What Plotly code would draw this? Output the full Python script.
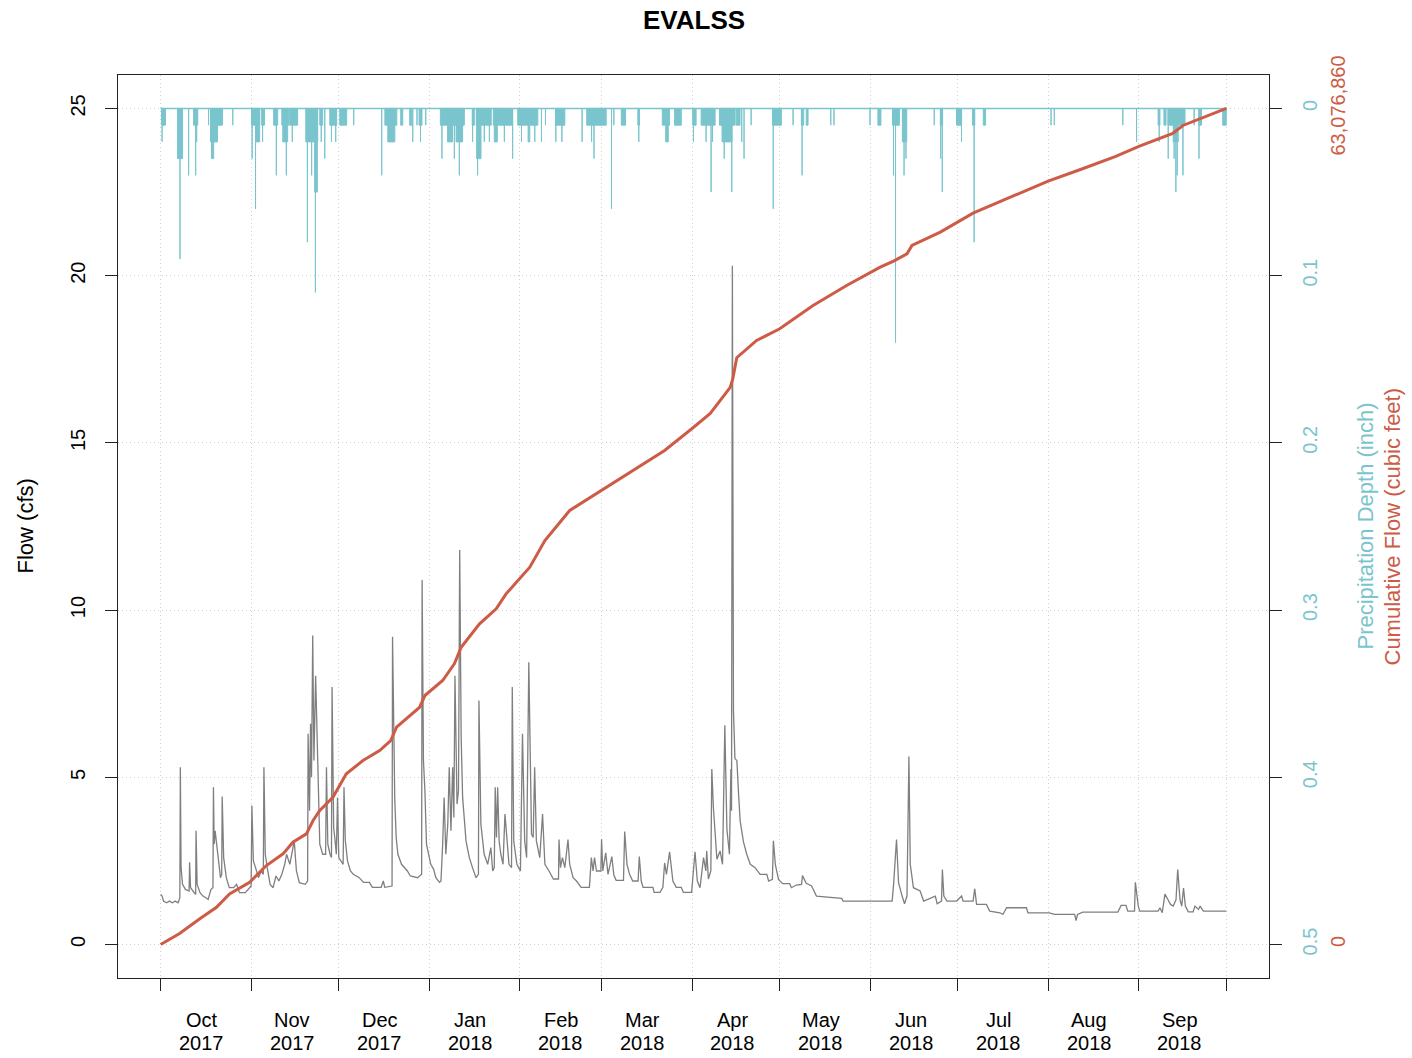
import pandas as pd
import plotly.graph_objects as go

title_text = "EVALSS"

# Hourly-resolution flow readings (time, cfs)
flow_obs = [
    ("2017-10-01 00:00", 1.5), ("2017-10-01 12:00", 1.45), ("2017-10-02 00:00", 1.3),
    ("2017-10-03 00:00", 1.25), ("2017-10-04 00:00", 1.3), ("2017-10-05 00:00", 1.25),
    ("2017-10-06 00:00", 1.3), ("2017-10-07 00:00", 1.25), ("2017-10-07 14:00", 1.4),
    ("2017-10-07 18:00", 5.3), ("2017-10-08 00:00", 2.3), ("2017-10-08 12:00", 1.8),
    ("2017-10-09 12:00", 1.65), ("2017-10-10 18:00", 1.6), ("2017-10-10 22:00", 2.46),
    ("2017-10-11 06:00", 1.7), ("2017-10-12 12:00", 1.55), ("2017-10-13 00:00", 1.5),
    ("2017-10-13 03:00", 3.4), ("2017-10-13 12:00", 1.8), ("2017-10-14 12:00", 1.55),
    ("2017-10-15 12:00", 1.45), ("2017-10-16 12:00", 1.4), ("2017-10-17 06:00", 1.35),
    ("2017-10-18 06:00", 1.65), ("2017-10-18 22:00", 1.7), ("2017-10-19 02:00", 4.7),
    ("2017-10-19 08:00", 3.0), ("2017-10-19 16:00", 3.4), ("2017-10-20 14:00", 2.6),
    ("2017-10-21 12:00", 2.0), ("2017-10-21 22:00", 2.1), ("2017-10-22 02:00", 4.43),
    ("2017-10-22 14:00", 2.6), ("2017-10-23 12:00", 2.0), ("2017-10-24 12:00", 1.7),
    ("2017-10-26 00:00", 1.7), ("2017-10-27 00:00", 1.8), ("2017-10-28 00:00", 1.55),
    ("2017-10-30 00:00", 1.55), ("2017-10-31 12:00", 1.7),
    ("2017-11-01 00:00", 1.75), ("2017-11-01 06:00", 4.16), ("2017-11-01 18:00", 2.5),
    ("2017-11-02 12:00", 2.3), ("2017-11-03 12:00", 2.0), ("2017-11-04 12:00", 2.2),
    ("2017-11-05 04:00", 2.1), ("2017-11-05 09:00", 5.3), ("2017-11-05 20:00", 2.7),
    ("2017-11-06 12:00", 2.3), ("2017-11-07 12:00", 1.8), ("2017-11-08 12:00", 1.7),
    ("2017-11-09 12:00", 2.05), ("2017-11-10 12:00", 1.9), ("2017-11-11 12:00", 2.1),
    ("2017-11-12 12:00", 2.4), ("2017-11-13 03:00", 2.7), ("2017-11-14 06:00", 2.4),
    ("2017-11-15 06:00", 2.9), ("2017-11-15 18:00", 3.1), ("2017-11-16 12:00", 2.2),
    ("2017-11-17 12:00", 1.85), ("2017-11-19 12:00", 1.8), ("2017-11-20 08:00", 1.9),
    ("2017-11-20 12:00", 6.3), ("2017-11-21 00:00", 4.0), ("2017-11-21 08:00", 6.6),
    ("2017-11-21 16:00", 5.0), ("2017-11-22 02:00", 9.24), ("2017-11-22 12:00", 5.5),
    ("2017-11-23 02:00", 8.04), ("2017-11-23 12:00", 6.6), ("2017-11-24 00:00", 4.0),
    ("2017-11-24 12:00", 3.0), ("2017-11-25 12:00", 2.7), ("2017-11-26 12:00", 2.7),
    ("2017-11-26 19:00", 5.3), ("2017-11-27 06:00", 3.0), ("2017-11-28 00:00", 2.7),
    ("2017-11-28 12:00", 2.6), ("2017-11-28 17:00", 7.7), ("2017-11-29 06:00", 3.5),
    ("2017-11-29 18:00", 3.1), ("2017-11-30 04:00", 2.7), ("2017-11-30 14:00", 4.4),
    ("2017-12-01 00:00", 2.6), ("2017-12-02 12:00", 2.4), ("2017-12-02 19:00", 4.7),
    ("2017-12-03 06:00", 3.1), ("2017-12-04 00:00", 2.5), ("2017-12-05 00:00", 2.2),
    ("2017-12-06 00:00", 2.1), ("2017-12-08 00:00", 2.0), ("2017-12-09 12:00", 1.86),
    ("2017-12-11 12:00", 1.86), ("2017-12-12 12:00", 1.71), ("2017-12-15 12:00", 1.71),
    ("2017-12-16 06:00", 1.9), ("2017-12-16 18:00", 1.71), ("2017-12-19 06:00", 1.75),
    ("2017-12-19 10:00", 9.2), ("2017-12-20 04:00", 4.4), ("2017-12-20 16:00", 3.2),
    ("2017-12-21 06:00", 2.7), ("2017-12-22 12:00", 2.4), ("2017-12-23 12:00", 2.3),
    ("2017-12-24 12:00", 2.2), ("2017-12-25 12:00", 2.05), ("2017-12-28 00:00", 2.0),
    ("2017-12-29 09:00", 2.1), ("2017-12-29 13:00", 10.9), ("2017-12-30 00:00", 5.5),
    ("2017-12-30 12:00", 4.6), ("2017-12-31 01:00", 3.0),
    ("2018-01-01 12:00", 2.4), ("2018-01-02 12:00", 2.25), ("2018-01-03 06:00", 2.0),
    ("2018-01-04 12:00", 1.86), ("2018-01-05 00:00", 1.9), ("2018-01-05 14:00", 3.0),
    ("2018-01-06 02:00", 4.4), ("2018-01-06 16:00", 2.7), ("2018-01-07 08:00", 3.6),
    ("2018-01-07 20:00", 5.3), ("2018-01-08 10:00", 3.4), ("2018-01-09 00:00", 5.3),
    ("2018-01-09 10:00", 3.8), ("2018-01-09 19:00", 8.04), ("2018-01-10 12:00", 4.2),
    ("2018-01-11 00:00", 4.6), ("2018-01-11 10:00", 11.8), ("2018-01-11 22:00", 6.2),
    ("2018-01-12 10:00", 4.4), ("2018-01-13 14:00", 3.1), ("2018-01-14 17:00", 2.6),
    ("2018-01-15 19:00", 2.3), ("2018-01-17 00:00", 2.0), ("2018-01-17 20:00", 2.1),
    ("2018-01-18 00:00", 7.3), ("2018-01-18 16:00", 3.6), ("2018-01-19 19:00", 2.7),
    ("2018-01-21 00:00", 2.4), ("2018-01-22 02:00", 2.9), ("2018-01-22 17:00", 2.2),
    ("2018-01-23 06:00", 2.3), ("2018-01-23 14:00", 4.7), ("2018-01-24 00:00", 3.2),
    ("2018-01-24 10:00", 4.7), ("2018-01-24 22:00", 3.1), ("2018-01-25 12:00", 2.7),
    ("2018-01-26 06:00", 2.4), ("2018-01-26 22:00", 3.9), ("2018-01-27 17:00", 2.9),
    ("2018-01-28 07:00", 2.4), ("2018-01-29 04:00", 2.3), ("2018-01-29 10:00", 7.7),
    ("2018-01-29 22:00", 3.1), ("2018-01-31 00:00", 2.4),
    ("2018-02-01 05:00", 2.2), ("2018-02-01 22:00", 6.3), ("2018-02-02 16:00", 3.1),
    ("2018-02-03 08:00", 2.6), ("2018-02-04 02:00", 8.44), ("2018-02-05 00:00", 3.3),
    ("2018-02-05 14:00", 3.2), ("2018-02-06 02:00", 5.3), ("2018-02-06 16:00", 3.1),
    ("2018-02-07 20:00", 2.6), ("2018-02-08 19:00", 3.9), ("2018-02-09 14:00", 2.4),
    ("2018-02-11 00:00", 2.2), ("2018-02-12 12:00", 1.96), ("2018-02-14 06:00", 1.96),
    ("2018-02-14 10:00", 3.14), ("2018-02-14 22:00", 2.3), ("2018-02-15 14:00", 2.6),
    ("2018-02-16 10:00", 2.3), ("2018-02-17 12:00", 3.14), ("2018-02-18 02:00", 2.4),
    ("2018-02-19 06:00", 2.0), ("2018-02-20 10:00", 1.9), ("2018-02-22 00:00", 1.71),
    ("2018-02-24 20:00", 1.71), ("2018-02-25 12:00", 2.6), ("2018-02-26 02:00", 2.2),
    ("2018-02-26 14:00", 2.6), ("2018-02-27 06:00", 2.2), ("2018-02-28 18:00", 2.2),
    ("2018-03-01 00:00", 3.15), ("2018-03-01 10:00", 2.2), ("2018-03-02 10:00", 2.74),
    ("2018-03-03 05:00", 2.1), ("2018-03-04 12:00", 2.63), ("2018-03-05 05:00", 2.08),
    ("2018-03-06 00:00", 1.92), ("2018-03-08 12:00", 1.92), ("2018-03-08 22:00", 3.38),
    ("2018-03-09 17:00", 2.4), ("2018-03-10 14:00", 2.1), ("2018-03-11 16:00", 1.9),
    ("2018-03-13 12:00", 1.9), ("2018-03-13 22:00", 2.63), ("2018-03-14 14:00", 1.9),
    ("2018-03-15 05:00", 1.71), ("2018-03-18 14:00", 1.71), ("2018-03-19 00:00", 1.56),
    ("2018-03-21 00:00", 1.56), ("2018-03-22 00:00", 1.71), ("2018-03-22 14:00", 2.44),
    ("2018-03-23 05:00", 2.1), ("2018-03-24 07:00", 2.77), ("2018-03-24 22:00", 2.2),
    ("2018-03-25 10:00", 1.9), ("2018-03-26 14:00", 1.71), ("2018-03-28 07:00", 1.71),
    ("2018-03-29 00:00", 1.56), ("2018-03-31 20:00", 1.56),
    ("2018-04-02 00:00", 2.77), ("2018-04-02 19:00", 1.9), ("2018-04-03 17:00", 1.7),
    ("2018-04-04 22:00", 2.6), ("2018-04-05 17:00", 2.2), ("2018-04-06 00:00", 2.8),
    ("2018-04-06 14:00", 1.96), ("2018-04-07 10:00", 2.2), ("2018-04-07 18:00", 5.25),
    ("2018-04-08 07:00", 4.1), ("2018-04-09 12:00", 2.55), ("2018-04-10 14:00", 2.8),
    ("2018-04-11 10:00", 2.4), ("2018-04-12 05:00", 6.56), ("2018-04-12 22:00", 3.45),
    ("2018-04-13 19:00", 2.7), ("2018-04-14 07:00", 5.25), ("2018-04-14 12:00", 4.0),
    ("2018-04-14 19:00", 20.3), ("2018-04-14 22:00", 11.0), ("2018-04-15 04:00", 7.0),
    ("2018-04-15 16:00", 5.56), ("2018-04-16 08:00", 5.5), ("2018-04-16 22:00", 4.5),
    ("2018-04-17 11:00", 3.7), ("2018-04-18 14:00", 3.07), ("2018-04-19 17:00", 2.7),
    ("2018-04-20 22:00", 2.4), ("2018-04-22 14:00", 2.3), ("2018-04-24 07:00", 2.1),
    ("2018-04-26 14:00", 2.1), ("2018-04-27 05:00", 1.9), ("2018-04-28 12:00", 1.95),
    ("2018-04-28 20:00", 3.1), ("2018-04-29 12:00", 2.4), ("2018-04-30 14:00", 1.95),
    ("2018-05-02 00:00", 1.82), ("2018-05-04 10:00", 1.82), ("2018-05-05 00:00", 1.7),
    ("2018-05-06 17:00", 1.78), ("2018-05-08 12:00", 1.8), ("2018-05-08 19:00", 2.06),
    ("2018-05-10 02:00", 1.83), ("2018-05-11 22:00", 1.75), ("2018-05-13 14:00", 1.45),
    ("2018-05-22 05:00", 1.38), ("2018-05-22 17:00", 1.3), ("2018-06-08 12:00", 1.3),
    ("2018-06-09 00:00", 1.8), ("2018-06-10 00:00", 3.14), ("2018-06-10 17:00", 1.84),
    ("2018-06-11 22:00", 1.45), ("2018-06-12 18:00", 1.22), ("2018-06-13 14:00", 1.45),
    ("2018-06-14 06:00", 5.62), ("2018-06-14 17:00", 2.4), ("2018-06-15 07:00", 2.0),
    ("2018-06-15 19:00", 1.7), ("2018-06-18 02:00", 1.6), ("2018-06-19 07:00", 1.3),
    ("2018-06-23 07:00", 1.45), ("2018-06-23 22:00", 1.22), ("2018-06-25 10:00", 1.3),
    ("2018-06-25 17:00", 2.24), ("2018-06-26 05:00", 1.45), ("2018-06-27 07:00", 1.3),
    ("2018-06-30 14:00", 1.3),
    ("2018-07-02 07:00", 1.45), ("2018-07-02 19:00", 1.3), ("2018-07-06 05:00", 1.3),
    ("2018-07-06 19:00", 1.67), ("2018-07-07 10:00", 1.2), ("2018-07-10 19:00", 1.2),
    ("2018-07-11 22:00", 1.0), ("2018-07-15 10:00", 0.95), ("2018-07-16 10:00", 0.9),
    ("2018-07-17 17:00", 1.1), ("2018-07-24 12:00", 1.1), ("2018-07-25 00:00", 0.95),
    ("2018-08-01 07:00", 0.95), ("2018-08-03 02:00", 0.9), ("2018-08-10 00:00", 0.9),
    ("2018-08-10 12:00", 0.72), ("2018-08-11 00:00", 0.9), ("2018-08-12 19:00", 0.97),
    ("2018-08-24 19:00", 0.97), ("2018-08-25 22:00", 1.17), ("2018-08-27 14:00", 1.17),
    ("2018-08-28 05:00", 1.0), ("2018-08-30 12:00", 1.0), ("2018-08-30 19:00", 1.86),
    ("2018-08-31 19:00", 1.15),
    ("2018-09-01 07:00", 1.0), ("2018-09-07 14:00", 1.0), ("2018-09-08 05:00", 1.1),
    ("2018-09-09 00:00", 0.95), ("2018-09-09 22:00", 1.51), ("2018-09-11 00:00", 1.34),
    ("2018-09-11 20:00", 1.2), ("2018-09-12 18:00", 1.15), ("2018-09-13 17:00", 1.34),
    ("2018-09-14 07:00", 2.24), ("2018-09-15 02:00", 1.34), ("2018-09-15 16:00", 1.15),
    ("2018-09-16 07:00", 1.69), ("2018-09-16 22:00", 1.15), ("2018-09-17 22:00", 0.98),
    ("2018-09-19 14:00", 0.98), ("2018-09-20 05:00", 1.15), ("2018-09-21 10:00", 1.05),
    ("2018-09-21 23:00", 1.15), ("2018-09-23 02:00", 1.0), ("2018-09-30 23:00", 1.0),
]

# Rain periods: (start, end, hourly depth in inches)
precip_events = [
    ("2017-10-01 08:00", "2017-10-02 16:00", 0.01), ("2017-10-01 12:00", "2017-10-01 12:00", 0.02),
    ("2017-10-06 19:00", "2017-10-08 12:00", 0.03), ("2017-10-07 15:00", "2017-10-07 15:00", 0.09),
    ("2017-10-10 14:00", "2017-10-10 14:00", 0.04), ("2017-10-12 07:00", "2017-10-13 17:00", 0.01),
    ("2017-10-13 00:00", "2017-10-13 00:00", 0.04), ("2017-10-13 08:00", "2017-10-13 08:00", 0.02),
    ("2017-10-17 10:00", "2017-10-17 10:00", 0.01), ("2017-10-18 02:00", "2017-10-20 12:00", 0.02),
    ("2017-10-18 10:00", "2017-10-19 04:00", 0.03), ("2017-10-20 12:00", "2017-10-22 05:00", 0.01),
    ("2017-10-25 17:00", "2017-10-25 17:00", 0.01),
    ("2017-11-01 04:00", "2017-11-03 22:00", 0.01), ("2017-11-01 08:00", "2017-11-01 08:00", 0.03),
    ("2017-11-02 12:00", "2017-11-02 12:00", 0.06), ("2017-11-02 14:00", "2017-11-03 22:00", 0.02),
    ("2017-11-04 14:00", "2017-11-05 14:00", 0.01), ("2017-11-04 22:00", "2017-11-04 22:00", 0.02),
    ("2017-11-08 17:00", "2017-11-10 02:00", 0.01), ("2017-11-09 15:00", "2017-11-09 15:00", 0.04),
    ("2017-11-11 12:00", "2017-11-13 22:00", 0.01), ("2017-11-11 20:00", "2017-11-13 12:00", 0.02),
    ("2017-11-13 01:00", "2017-11-13 01:00", 0.04), ("2017-11-14 05:00", "2017-11-16 22:00", 0.01),
    ("2017-11-15 02:00", "2017-11-15 02:00", 0.02), ("2017-11-19 17:00", "2017-11-23 19:00", 0.02),
    ("2017-11-20 06:00", "2017-11-20 06:00", 0.08), ("2017-11-21 17:00", "2017-11-21 17:00", 0.04),
    ("2017-11-22 18:00", "2017-11-23 16:00", 0.05), ("2017-11-23 00:00", "2017-11-23 00:00", 0.11),
    ("2017-11-24 12:00", "2017-11-25 12:00", 0.01), ("2017-11-25 00:00", "2017-11-25 00:00", 0.02),
    ("2017-11-26 05:00", "2017-11-26 05:00", 0.03), ("2017-11-27 22:00", "2017-11-30 07:00", 0.01),
    ("2017-11-28 12:00", "2017-11-28 12:00", 0.02), ("2017-11-29 23:00", "2017-11-29 23:00", 0.02),
    ("2017-12-01 08:00", "2017-12-03 17:00", 0.01), ("2017-12-06 03:00", "2017-12-06 03:00", 0.01),
    ("2017-12-15 17:00", "2017-12-15 17:00", 0.04), ("2017-12-16 19:00", "2017-12-20 21:00", 0.01),
    ("2017-12-17 19:00", "2017-12-20 05:00", 0.02), ("2017-12-22 05:00", "2017-12-22 22:00", 0.01),
    ("2017-12-25 07:00", "2017-12-26 00:00", 0.01), ("2017-12-26 08:00", "2017-12-26 08:00", 0.02),
    ("2017-12-27 19:00", "2017-12-27 19:00", 0.01), ("2017-12-28 12:00", "2017-12-29 12:00", 0.01),
    ("2017-12-29 00:00", "2017-12-29 00:00", 0.02), ("2017-12-30 19:00", "2017-12-30 19:00", 0.01),
    ("2018-01-04 19:00", "2018-01-13 00:00", 0.01), ("2018-01-05 08:00", "2018-01-05 08:00", 0.03),
    ("2018-01-07 06:00", "2018-01-08 23:00", 0.02), ("2018-01-09 14:00", "2018-01-09 14:00", 0.03),
    ("2018-01-10 04:00", "2018-01-12 10:00", 0.02), ("2018-01-11 07:00", "2018-01-11 07:00", 0.04),
    ("2018-01-15 17:00", "2018-01-16 10:00", 0.01), ("2018-01-15 20:00", "2018-01-15 20:00", 0.02),
    ("2018-01-17 02:00", "2018-01-22 05:00", 0.01), ("2018-01-17 05:00", "2018-01-18 17:00", 0.03),
    ("2018-01-17 13:00", "2018-01-17 13:00", 0.04), ("2018-01-19 20:00", "2018-01-19 20:00", 0.02),
    ("2018-01-21 14:00", "2018-01-21 14:00", 0.02), ("2018-01-22 22:00", "2018-01-29 10:00", 0.01),
    ("2018-01-23 06:00", "2018-01-24 07:00", 0.02), ("2018-01-26 17:00", "2018-01-26 17:00", 0.02),
    ("2018-01-29 13:00", "2018-01-29 13:00", 0.03), ("2018-01-31 07:00", "2018-02-07 04:00", 0.01),
    ("2018-02-01 14:00", "2018-02-01 14:00", 0.02), ("2018-02-03 20:00", "2018-02-04 10:00", 0.02),
    ("2018-02-06 03:00", "2018-02-06 03:00", 0.02), ("2018-02-08 10:00", "2018-02-08 10:00", 0.02),
    ("2018-02-09 19:00", "2018-02-09 19:00", 0.01), ("2018-02-13 05:00", "2018-02-16 10:00", 0.01),
    ("2018-02-13 08:00", "2018-02-13 08:00", 0.02), ("2018-02-15 10:00", "2018-02-15 10:00", 0.02),
    ("2018-02-22 08:00", "2018-02-22 08:00", 0.02), ("2018-02-23 22:00", "2018-03-02 14:00", 0.01),
    ("2018-02-25 14:00", "2018-02-25 14:00", 0.02), ("2018-02-26 10:00", "2018-02-26 10:00", 0.03),
    ("2018-03-04 10:00", "2018-03-04 10:00", 0.06), ("2018-03-05 05:00", "2018-03-05 05:00", 0.01),
    ("2018-03-07 18:00", "2018-03-09 05:00", 0.01), ("2018-03-13 10:00", "2018-03-14 00:00", 0.01),
    ("2018-03-13 18:00", "2018-03-13 18:00", 0.02), ("2018-03-21 19:00", "2018-03-24 07:00", 0.01),
    ("2018-03-22 23:00", "2018-03-23 20:00", 0.02), ("2018-03-26 00:00", "2018-03-28 07:00", 0.01),
    ("2018-04-01 05:00", "2018-04-02 09:00", 0.01), ("2018-04-01 11:00", "2018-04-01 11:00", 0.02),
    ("2018-04-04 02:00", "2018-04-08 21:00", 0.01), ("2018-04-05 19:00", "2018-04-05 19:00", 0.02),
    ("2018-04-07 12:00", "2018-04-07 12:00", 0.05), ("2018-04-08 00:00", "2018-04-08 00:00", 0.02),
    ("2018-04-10 09:00", "2018-04-15 17:00", 0.01), ("2018-04-11 06:00", "2018-04-14 16:00", 0.02),
    ("2018-04-12 00:00", "2018-04-12 00:00", 0.03), ("2018-04-14 14:00", "2018-04-14 14:00", 0.05),
    ("2018-04-16 02:00", "2018-04-17 10:00", 0.01), ("2018-04-18 00:00", "2018-04-18 00:00", 0.02),
    ("2018-04-18 19:00", "2018-04-18 19:00", 0.03), ("2018-04-21 05:00", "2018-04-21 05:00", 0.01),
    ("2018-04-28 12:00", "2018-05-01 14:00", 0.01), ("2018-04-28 19:00", "2018-04-28 19:00", 0.06),
    ("2018-05-05 14:00", "2018-05-05 14:00", 0.01), ("2018-05-08 10:00", "2018-05-09 05:00", 0.01),
    ("2018-05-08 16:00", "2018-05-08 16:00", 0.04), ("2018-05-10 02:00", "2018-05-10 17:00", 0.01),
    ("2018-05-18 12:00", "2018-05-18 12:00", 0.01), ("2018-05-19 14:00", "2018-05-19 14:00", 0.01),
    ("2018-05-31 22:00", "2018-05-31 22:00", 0.01),
    ("2018-06-03 15:00", "2018-06-04 16:00", 0.01), ("2018-06-08 15:00", "2018-06-11 00:00", 0.01),
    ("2018-06-08 23:00", "2018-06-08 23:00", 0.04), ("2018-06-09 16:00", "2018-06-09 16:00", 0.14),
    ("2018-06-12 00:00", "2018-06-13 12:00", 0.02), ("2018-06-12 14:00", "2018-06-12 14:00", 0.04),
    ("2018-06-13 06:00", "2018-06-13 06:00", 0.03), ("2018-06-22 22:00", "2018-06-22 22:00", 0.01),
    ("2018-06-25 00:00", "2018-06-25 19:00", 0.01), ("2018-06-25 03:00", "2018-06-25 03:00", 0.03),
    ("2018-06-25 16:00", "2018-06-25 16:00", 0.05), ("2018-06-30 13:00", "2018-07-02 07:00", 0.01),
    ("2018-07-02 06:00", "2018-07-02 06:00", 0.02), ("2018-07-06 00:00", "2018-07-06 19:00", 0.01),
    ("2018-07-06 14:00", "2018-07-06 14:00", 0.08), ("2018-07-09 17:00", "2018-07-10 12:00", 0.01),
    ("2018-08-01 22:00", "2018-08-01 22:00", 0.01), ("2018-08-03 01:00", "2018-08-03 01:00", 0.01),
    ("2018-08-26 12:00", "2018-08-26 12:00", 0.01), ("2018-08-31 05:00", "2018-08-31 05:00", 0.02),
    ("2018-09-07 14:00", "2018-09-08 05:00", 0.01), ("2018-09-07 23:00", "2018-09-07 23:00", 0.02),
    ("2018-09-09 14:00", "2018-09-10 07:00", 0.01), ("2018-09-11 00:00", "2018-09-16 19:00", 0.01),
    ("2018-09-11 01:00", "2018-09-11 01:00", 0.03), ("2018-09-12 18:00", "2018-09-14 11:00", 0.02),
    ("2018-09-13 02:00", "2018-09-13 02:00", 0.03), ("2018-09-13 16:00", "2018-09-13 16:00", 0.05),
    ("2018-09-14 03:00", "2018-09-14 03:00", 0.04), ("2018-09-16 02:00", "2018-09-16 02:00", 0.04),
    ("2018-09-19 22:00", "2018-09-19 22:00", 0.01), ("2018-09-21 14:00", "2018-09-22 10:00", 0.01),
    ("2018-09-21 14:00", "2018-09-21 14:00", 0.03), ("2018-09-29 17:00", "2018-09-30 22:00", 0.01),
]

# Running total of flow volume (time, cubic feet)
cum_obs = [
    ("2017-10-01 00:00", 0), ("2017-10-07 12:00", 830000), ("2017-10-14 10:00", 1940000),
    ("2017-10-20 03:00", 2813000), ("2017-10-24 14:00", 3825000), ("2017-10-31 12:00", 4700000),
    ("2017-11-06 05:00", 5960000), ("2017-11-11 22:00", 6843000), ("2017-11-15 07:00", 7718000),
    ("2017-11-19 22:00", 8351000), ("2017-11-22 05:00", 9356000), ("2017-11-24 12:00", 10110000),
    ("2017-11-29 00:00", 11114000), ("2017-12-03 14:00", 12880000), ("2017-12-09 07:00", 13882000),
    ("2017-12-15 00:00", 14637000), ("2017-12-18 19:00", 15391000), ("2017-12-20 19:00", 16395000),
    ("2017-12-28 17:00", 17904000), ("2017-12-30 12:00", 18787000), ("2018-01-05 14:00", 19920000),
    ("2018-01-09 14:00", 21179000), ("2018-01-11 22:00", 22430000), ("2018-01-18 05:00", 24196000),
    ("2018-01-23 22:00", 25329000), ("2018-01-27 07:00", 26459000), ("2018-02-04 10:00", 28468000),
    ("2018-02-09 14:00", 30481000), ("2018-02-18 02:00", 32745000), ("2018-03-01 00:00", 34256000),
    ("2018-03-14 00:00", 36065000), ("2018-03-22 14:00", 37273000), ("2018-04-01 00:00", 38934000),
    ("2018-04-07 05:00", 40071000), ("2018-04-14 00:00", 42019000), ("2018-04-14 22:00", 42660000),
    ("2018-04-16 07:00", 44275000), ("2018-04-23 02:00", 45572000), ("2018-05-01 00:00", 46455000),
    ("2018-05-12 10:00", 48213000), ("2018-05-23 22:00", 49722000), ("2018-06-04 10:00", 51102000),
    ("2018-06-09 00:00", 51557000), ("2018-06-13 14:00", 52114000), ("2018-06-15 07:00", 52740000),
    ("2018-06-25 00:00", 53744000), ("2018-07-06 05:00", 55177000), ("2018-07-19 22:00", 56464000),
    ("2018-07-31 22:00", 57597000), ("2018-08-12 17:00", 58528000), ("2018-08-24 02:00", 59456000),
    ("2018-09-01 00:00", 60211000), ("2018-09-12 14:00", 61190000), ("2018-09-16 02:00", 61793000),
    ("2018-09-30 23:00", 63076860),
]

flow_ticks = [0, 5, 10, 15, 20, 25]
precip_ticks = [0, 0.1, 0.2, 0.3, 0.4, 0.5]

GRAY = "#7F7F7F"
RED = "#CD5B45"
CYAN = "#7AC5CD"
INK = "#222222"
GRID = "#CFCFCF"
FONT = "Liberation Sans, Arial, Helvetica, sans-serif"

flow_time = pd.to_datetime([t for t, _ in flow_obs])
flow_cfs = [v for _, v in flow_obs]
cum_time = pd.to_datetime([t for t, _ in cum_obs])
cum_cf = [v for _, v in cum_obs]
cum_total = cum_cf[-1]

# x range padded by 4% on each side, like base R graphics
t0, t1 = flow_time[0], flow_time[-1]
pad = (t1 - t0) * 0.04
x_range = [t0 - pad, t1 + pad]

# flow axis padded by 4%; precip and cumulative axes share the same frame
f_lo, f_hi = min(flow_ticks), max(flow_ticks)
f_pad = (f_hi - f_lo) * 0.04
y_range = [f_lo - f_pad, f_hi + f_pad]
p_top = max(precip_ticks)
p_per_flow = p_top / (f_hi - f_lo)
y2_range = [p_top + f_pad * p_per_flow, -f_pad * p_per_flow]
c_per_flow = cum_total / (f_hi - f_lo)
y3_range = [-f_pad * c_per_flow, cum_total + f_pad * c_per_flow]

month_starts = pd.date_range("2017-10-01", "2018-10-01", freq="MS")

# precipitation drawn downward from the top as filled hyetograph blocks
px, py = [], []
for s, e, d in precip_events:
    s, e = pd.Timestamp(s).isoformat(), pd.Timestamp(e).isoformat()
    px += [s, s, e, e, s, None]
    py += [0, d, d, 0, 0, None]

fig = go.Figure()
fig.add_trace(go.Scatter(x=flow_time, y=flow_cfs, mode="lines",
                         line=dict(color=GRAY, width=1.3), yaxis="y",
                         showlegend=False, hoverinfo="skip"))
fig.add_trace(go.Scatter(x=[t0, t1], y=[0, 0], mode="lines",
                         line=dict(color=CYAN, width=1.5), yaxis="y2",
                         showlegend=False, hoverinfo="skip"))
fig.add_trace(go.Scatter(x=px, y=py, mode="lines", fill="toself",
                         fillcolor=CYAN, line=dict(color=CYAN, width=1),
                         yaxis="y2", showlegend=False, hoverinfo="skip"))
fig.add_trace(go.Scatter(x=cum_time, y=cum_cf, mode="lines",
                         line=dict(color=RED, width=3), yaxis="y3",
                         showlegend=False, hoverinfo="skip"))

tick_font = dict(family=FONT, size=20, color="black")

fig.update_layout(
    width=1412, height=1058,
    margin=dict(l=118, r=143, t=75, b=80),
    paper_bgcolor="white", plot_bgcolor="white",
    font=dict(family=FONT, size=20, color="black"),
    xaxis=dict(type="date", range=x_range, tickvals=month_starts,
               showticklabels=False, ticks="outside", ticklen=12,
               tickcolor=INK, showgrid=True, gridcolor=GRID,
               griddash="1px,3px", gridwidth=1, showline=True, mirror=True,
               linecolor=INK, linewidth=1, zeroline=False),
    yaxis=dict(range=y_range, tickvals=flow_ticks, tickangle=-90,
               ticks="outside", ticklen=12, tickcolor=INK, tickfont=tick_font,
               ticklabelstandoff=12,
               showgrid=True, gridcolor=GRID, griddash="1px,3px", gridwidth=1,
               showline=True, mirror=True, linecolor=INK, linewidth=1,
               zeroline=False),
    yaxis2=dict(overlaying="y", side="right", range=y2_range,
                tickvals=precip_ticks, ticktext=[f"{v:g}" for v in precip_ticks],
                tickangle=-90, ticks="outside", ticklen=12, tickcolor=INK,
                ticklabelstandoff=11,
                tickfont=dict(family=FONT, size=20, color=CYAN),
                showgrid=False, zeroline=False, showline=False),
    yaxis3=dict(overlaying="y", side="right", range=y3_range,
                tickvals=[0, cum_total], ticktext=["0", f"{cum_total:,.0f}"],
                tickangle=-90, ticks="", ticklabelstandoff=55,
                tickfont=dict(family=FONT, size=20, color=RED),
                showgrid=False, zeroline=False, showline=False),
)

annotations = [
    dict(text=f"<b>{title_text}</b>", xref="paper", yref="paper", x=0.5, y=1,
         yshift=55, showarrow=False, xanchor="center", yanchor="middle",
         font=dict(family=FONT, size=26, color="black")),
    dict(text="Flow (cfs)", xref="paper", yref="paper", x=0, y=0.5,
         xshift=-93, textangle=-90, showarrow=False, xanchor="center",
         yanchor="middle", font=dict(family=FONT, size=22, color="black")),
    dict(text="Precipitation Depth (inch)", xref="paper", yref="paper", x=1,
         y=0.5, xshift=96, textangle=-90, showarrow=False, xanchor="center",
         yanchor="middle", font=dict(family=FONT, size=22, color=CYAN)),
    dict(text="Cumulative Flow (cubic feet)", xref="paper", yref="paper", x=1,
         y=0.5, xshift=123, textangle=-90, showarrow=False, xanchor="center",
         yanchor="middle", font=dict(family=FONT, size=22, color=RED)),
]
for m in month_starts[:-1]:
    mid = m + pd.Timedelta(days=14)
    annotations.append(dict(text=m.strftime("%b"), xref="x", yref="paper",
                            x=mid, y=0, yshift=-42, showarrow=False,
                            xanchor="center", yanchor="middle",
                            font=dict(family=FONT, size=20, color="black")))
    annotations.append(dict(text=m.strftime("%Y"), xref="x", yref="paper",
                            x=mid, y=0, yshift=-65, showarrow=False,
                            xanchor="center", yanchor="middle",
                            font=dict(family=FONT, size=20, color="black")))
fig.update_layout(annotations=annotations)

fig.write_html("out.html")
